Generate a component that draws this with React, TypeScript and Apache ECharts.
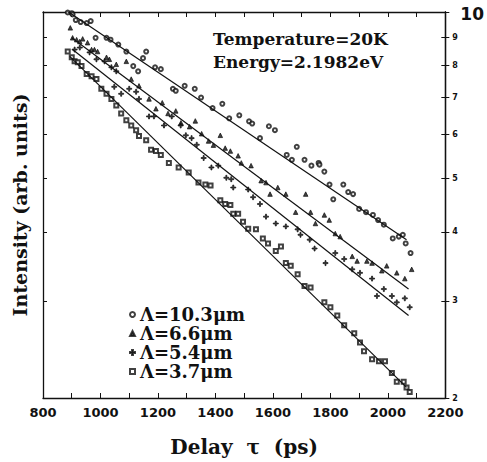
import React, { useEffect, useRef } from "react";
import * as echarts from "echarts";

const seriesNames = ["Λ=10.3μm", "Λ=6.6μm", "Λ=5.4μm", "Λ=3.7μm"];

const circles103: [number, number][] = [
  [886, 9.98], [900, 9.95], [903, 9.9], [914, 9.67], [931, 9.59], [952, 9.55], [966, 9.63],
  [983, 8.98], [1021, 8.98], [1035, 8.91], [1062, 8.73], [1090, 8.48], [1114, 7.98], [1131, 7.81],
  [1159, 8.48], [1148, 8.25], [1190, 7.94], [1210, 7.88], [1252, 7.26], [1262, 7.2], [1293, 7.35],
  [1328, 7.26], [1350, 7.0], [1390, 6.7], [1424, 6.82], [1483, 6.5], [1448, 6.42], [1517, 6.34],
  [1528, 6.28], [1586, 6.21], [1607, 6.11], [1555, 5.91], [1683, 5.7], [1648, 5.51], [1666, 5.4],
  [1710, 5.4], [1734, 5.27], [1759, 5.33], [1762, 5.29], [1779, 5.14], [1797, 4.87], [1845, 4.87],
  [1862, 4.72], [1879, 4.68], [1810, 4.58], [1900, 4.4], [1924, 4.34], [1948, 4.29], [1966, 4.2],
  [1986, 4.12], [2017, 3.89], [2038, 3.92], [2052, 3.95], [2062, 3.81], [2079, 3.66],
];

const triangles66: [number, number][] = [
  [895, 9.36], [903, 8.98], [917, 8.91], [928, 8.84], [938, 8.94], [955, 8.8], [969, 8.55],
  [979, 8.55], [990, 8.48], [1021, 8.28], [1031, 8.21], [1055, 8.04], [1090, 8.14], [1107, 7.56],
  [1134, 7.35], [1169, 6.96], [1193, 6.68], [1215, 6.85], [1235, 6.55], [1262, 6.62], [1280, 6.3],
  [1310, 6.2], [1330, 6.35], [1352, 6.02], [1376, 5.84], [1393, 5.74], [1417, 5.98], [1434, 5.67],
  [1452, 5.6], [1479, 5.49], [1490, 5.33], [1524, 5.27], [1559, 4.95], [1576, 4.91], [1590, 4.68],
  [1617, 4.81], [1645, 4.68], [1679, 4.34], [1714, 4.68], [1731, 4.34], [1748, 4.14], [1779, 4.29],
  [1796, 4.2], [1817, 3.97], [1834, 3.92], [1876, 3.61], [1893, 3.54], [1927, 3.54], [1945, 3.51],
  [1979, 3.4], [1996, 3.47], [2031, 3.37], [2059, 3.29], [2083, 3.42],
];

const pluses54: [number, number][] = [
  [910, 8.55], [928, 8.62], [962, 8.45], [986, 8.21], [1014, 8.14], [1038, 7.94], [1055, 7.81],
  [1048, 7.32], [1072, 7.11], [1100, 7.26], [1124, 7.17], [1134, 6.96], [1169, 6.47], [1186, 6.47],
  [1221, 6.23], [1248, 6.47], [1279, 6.23], [1297, 5.98], [1317, 5.91], [1335, 5.75], [1359, 5.44],
  [1386, 5.23], [1410, 5.27], [1438, 5.01], [1455, 4.98], [1462, 4.81], [1514, 4.77], [1531, 4.62],
  [1555, 4.49], [1576, 4.26], [1610, 4.14], [1645, 4.09], [1686, 4.04], [1696, 3.95], [1728, 3.87],
  [1745, 3.73], [1783, 3.51], [1817, 3.66], [1848, 3.57], [1876, 3.42], [1903, 3.37], [1945, 3.29],
  [1962, 3.06], [1986, 3.15], [2014, 3.06], [2031, 2.98], [2059, 3.03], [2076, 2.92],
];

const squares37: [number, number][] = [
  [886, 8.48], [900, 8.28], [910, 8.14], [921, 8.11], [934, 7.98], [952, 7.72], [969, 7.65],
  [986, 7.56], [1003, 7.26], [1021, 7.11], [1038, 6.96], [1055, 6.77], [1072, 6.55], [1090, 6.37],
  [1107, 6.23], [1124, 6.11], [1134, 5.96], [1159, 5.86], [1176, 5.63], [1193, 5.6], [1210, 5.51],
  [1238, 5.33], [1272, 5.23], [1307, 5.12], [1341, 4.91], [1365, 4.87], [1383, 4.85], [1417, 4.56],
  [1434, 4.49], [1452, 4.47], [1462, 4.31], [1479, 4.31], [1496, 4.17], [1514, 4.05], [1541, 4.04],
  [1565, 3.89], [1583, 3.81], [1610, 3.69], [1628, 3.76], [1645, 3.51], [1662, 3.47], [1686, 3.35],
  [1710, 3.19], [1731, 3.17], [1779, 2.98], [1800, 2.92], [1824, 2.82], [1848, 2.71], [1883, 2.62],
  [1903, 2.52], [1917, 2.43], [1945, 2.35], [1969, 2.33], [1990, 2.33], [2014, 2.22], [2031, 2.14],
  [2055, 2.14], [2065, 2.09], [2076, 2.05],
];

const fit103: [number, number][] = [[879, 10.08], [2065, 3.87]];
const fit66: [number, number][] = [[900, 8.98], [2072, 3.15]];
const fit54: [number, number][] = [[903, 8.55], [2072, 2.82]];
const fit37: [number, number][] = [[893, 8.31], [2065, 2.09]];

const yTickValues = [2, 3, 4, 5, 6, 7, 8, 9, 10];
const annotationLines = ["Temperature=20K", "Energy=2.1982eV"];

const SERIF = "'DejaVu Serif', serif";
const SANS = "'DejaVu Sans', sans-serif";
const PLUS = "path://M2,0H3V2H5V3H3V5H2V3H0V2H2Z";

export default function App() {
  const ref = useRef<HTMLDivElement>(null);
  useEffect(() => {
    if (!ref.current) return;
    const chart = echarts.init(ref.current, null, { renderer: "svg" });
    const scatterData = [circles103, triangles66, pluses54, squares37];
    const symbols = ["emptyCircle", "triangle", PLUS, "emptyRect"];
    const sizes = [4, 4.5, 5, 4];
    const fits = [fit103, fit66, fit54, fit37];
    const series: any[] = [];
    scatterData.forEach((d, i) => {
      series.push({
        type: "scatter",
        name: seriesNames[i],
        data: d,
        symbol: symbols[i],
        symbolSize: sizes[i],
        itemStyle: { color: "#111", borderColor: "#111", borderWidth: 0.9 },
        xAxisIndex: 0,
        yAxisIndex: 0,
        clip: true,
      });
    });
    fits.forEach((d, i) => {
      series.push({
        type: "line",
        name: "fit" + i,
        data: d,
        showSymbol: false,
        symbol: "none",
        lineStyle: { color: "#111", width: 1.2 },
        xAxisIndex: 0,
        yAxisIndex: 0,
        clip: true,
        silent: true,
      });
    });
    const axisLine = { show: true, lineStyle: { color: "#111", width: 1.3 } };
    chart.setOption({
      animation: false,
      backgroundColor: "#fff",
      grid: { left: 43, right: 38, top: 12, bottom: 58, containLabel: false },
      legend: {
        data: seriesNames,
        orient: "vertical",
        left: 124,
        top: 300,
        itemGap: 0,
        itemWidth: 5,
        itemHeight: 5,
        textStyle: { fontFamily: SERIF, fontWeight: "bold", fontSize: 18, color: "#111", lineHeight: 19 },
      },
      xAxis: [
        {
          type: "value",
          min: 800,
          max: 2200,
          interval: 200,
          position: "bottom",
          axisLine,
          axisTick: { show: true, inside: true, length: 5, lineStyle: { color: "#111" } },
          minorTick: { show: true, splitNumber: 2, length: 5, lineStyle: { color: "#111" } },
          splitLine: { show: false },
          axisLabel: {
            margin: 8,
            fontFamily: SANS,
            fontWeight: "bold",
            fontSize: 13,
            color: "#111",
            formatter: (v: number) => String(v),
          },
          name: "Delay  τ  (ps)",
          nameLocation: "middle",
          nameGap: 39,
          nameTextStyle: { fontFamily: SERIF, fontWeight: "bold", fontSize: 20, color: "#111" },
        },
        {
          type: "value",
          min: 800,
          max: 2200,
          interval: 200,
          position: "top",
          axisLine,
          axisTick: { show: true, inside: true, length: 5, lineStyle: { color: "#111" } },
          minorTick: { show: true, splitNumber: 2, length: 5, lineStyle: { color: "#111" } },
          splitLine: { show: false },
          axisLabel: { show: false },
        },
      ],
      yAxis: [
        {
          type: "log",
          logBase: 10,
          min: 2,
          max: 10,
          position: "left",
          axisLine,
          axisTick: { show: true, inside: true, length: 4, customValues: yTickValues, lineStyle: { color: "#111" } },
          axisLabel: { show: false },
          splitLine: { show: false },
          name: "Intensity (arb. units)",
          nameLocation: "middle",
          nameRotate: 90,
          nameGap: 14,
          nameTextStyle: { fontFamily: SERIF, fontWeight: "bold", fontSize: 19, color: "#111" },
        },
        {
          type: "log",
          logBase: 10,
          min: 2,
          max: 10,
          position: "right",
          axisLine,
          axisTick: { show: true, inside: false, length: 4, customValues: yTickValues, lineStyle: { color: "#111" } },
          axisLabel: {
            show: true,
            customValues: yTickValues,
            margin: 7,
            formatter: (v: number) => (Math.round(v) === 10 ? "{big|10}" : "{s|" + Math.round(v) + "}"),
            rich: {
              s: { fontFamily: SANS, fontWeight: "bold", fontSize: 8, color: "#111" },
              big: { fontFamily: SANS, fontWeight: "bold", fontSize: 17, color: "#111", padding: [4, 0, 0, 8] },
            },
          },
          splitLine: { show: false },
        },
        {
          type: "log",
          logBase: 10,
          min: 2,
          max: 10,
          position: "right",
          axisLine,
          axisTick: { show: true, inside: true, length: 4, customValues: yTickValues, lineStyle: { color: "#111" } },
          axisLabel: { show: false },
          splitLine: { show: false },
        },
      ],
      graphic: annotationLines.map((t, i) => ({
        type: "text",
        left: 213,
        top: 30 + i * 23,
        style: { text: t, fontFamily: SERIF, fontWeight: "bold", fontSize: 17, fill: "#111" },
      })),
      series,
    });
    return () => chart.dispose();
  }, []);
  return (
    <div
      ref={ref}
      style={{ position: "fixed", left: 0, top: 0, width: 487, height: 462, background: "#fff" }}
    />
  );
}
